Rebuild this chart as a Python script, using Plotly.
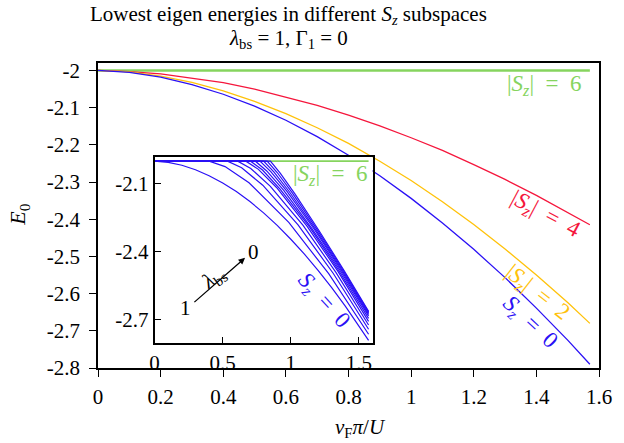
import plotly.graph_objects as go

# ---------------- data ----------------
x_main = [0, 0.1, 0.2, 0.3, 0.4, 0.5, 0.6, 0.7, 0.8, 0.9, 1.0, 1.1, 1.2, 1.3, 1.4, 1.5, 1.5708]
e_sz0 = [-2, -2.005, -2.018, -2.038, -2.064, -2.096, -2.134, -2.178, -2.228, -2.283,
         -2.344, -2.410, -2.481, -2.557, -2.639, -2.725, -2.790]
e_sz2 = [-2, -2.004, -2.015, -2.032, -2.055, -2.083, -2.116, -2.154, -2.196, -2.244,
         -2.296, -2.353, -2.414, -2.480, -2.550, -2.624, -2.680]
e_sz4 = [-2, -2.003, -2.009, -2.020, -2.033, -2.050, -2.071, -2.094, -2.120, -2.149,
         -2.181, -2.215, -2.253, -2.293, -2.336, -2.381, -2.415]
e_sz6 = [-2] * len(x_main)

# inset: Sz=0 lowest energy for lambda_bs = 0.9 ... 0 (lambda=1 is e_sz0)
inset_x = {
    0.9: [0, 0.40, 0.517, 0.693, 0.985, 1.278, 1.5708],
    0.8: [0, 0.535, 0.639, 0.794, 1.053, 1.312, 1.5708],
    0.7: [0, 0.61, 0.706, 0.850, 1.090, 1.331, 1.5708],
    0.6: [0, 0.67, 0.760, 0.895, 1.120, 1.346, 1.5708],
    0.5: [0, 0.705, 0.792, 0.921, 1.138, 1.354, 1.5708],
    0.4: [0, 0.74, 0.823, 0.948, 1.155, 1.363, 1.5708],
    0.3: [0, 0.773, 0.853, 0.972, 1.172, 1.371, 1.5708],
    0.2: [0, 0.80, 0.877, 0.993, 1.185, 1.378, 1.5708],
    0.1: [0, 0.826, 0.900, 1.012, 1.198, 1.385, 1.5708],
    0.0: [0, 0.85, 0.922, 1.030, 1.210, 1.391, 1.5708],
}
inset_e = {
    0.9: [-2, -2, -2.024, -2.095, -2.270, -2.496, -2.763],
    0.8: [-2, -2, -2.029, -2.106, -2.281, -2.495, -2.741],
    0.7: [-2, -2, -2.032, -2.111, -2.283, -2.490, -2.722],
    0.6: [-2, -2, -2.035, -2.116, -2.287, -2.486, -2.706],
    0.5: [-2, -2, -2.039, -2.123, -2.291, -2.484, -2.693],
    0.4: [-2, -2, -2.043, -2.129, -2.297, -2.483, -2.682],
    0.3: [-2, -2, -2.046, -2.133, -2.300, -2.482, -2.675],
    0.2: [-2, -2, -2.048, -2.138, -2.304, -2.482, -2.669],
    0.1: [-2, -2, -2.050, -2.141, -2.306, -2.482, -2.665],
    0.0: [-2, -2, -2.053, -2.144, -2.309, -2.482, -2.662],
}

x_ticks = [0, 0.2, 0.4, 0.6, 0.8, 1.0, 1.2, 1.4, 1.6]
x_ticktext = ["0", "0.2", "0.4", "0.6", "0.8", "1", "1.2", "1.4", "1.6"]
y_ticks = [-2, -2.1, -2.2, -2.3, -2.4, -2.5, -2.6, -2.7, -2.8]
y_ticktext = ["-2", "-2.1", "-2.2", "-2.3", "-2.4", "-2.5", "-2.6", "-2.7", "-2.8"]
ix_ticks = [0, 0.5, 1.0, 1.5]
ix_ticktext = ["0", "0.5", "1", "1.5"]
iy_ticks = [-2.1, -2.4, -2.7]
iy_ticktext = ["-2.1", "-2.4", "-2.7"]

# ---------------- style ----------------
GREEN = "#86d45e"
RED = "#f5163c"
YELLOW = "#ffc20a"
BLUE = "#2a10f5"
FONT = "Liberation Serif"

fig = go.Figure()

# main curves
fig.add_trace(go.Scatter(x=x_main, y=e_sz6, mode="lines", line=dict(color=GREEN, width=2.5),
                         xaxis="x", yaxis="y", showlegend=False))
fig.add_trace(go.Scatter(x=x_main, y=e_sz4, mode="lines", line=dict(color=RED, width=1.3),
                         xaxis="x", yaxis="y", showlegend=False))
fig.add_trace(go.Scatter(x=x_main, y=e_sz2, mode="lines", line=dict(color=YELLOW, width=1.3),
                         xaxis="x", yaxis="y", showlegend=False))
fig.add_trace(go.Scatter(x=x_main, y=e_sz0, mode="lines", line=dict(color=BLUE, width=1.3),
                         xaxis="x", yaxis="y", showlegend=False))

# inset curves
fig.add_trace(go.Scatter(x=x_main, y=e_sz6, mode="lines", line=dict(color=GREEN, width=1.8),
                         xaxis="x2", yaxis="y2", showlegend=False))
for lam in inset_x:
    fig.add_trace(go.Scatter(x=inset_x[lam], y=inset_e[lam], mode="lines",
                             line=dict(color=BLUE, width=1.2),
                             xaxis="x2", yaxis="y2", showlegend=False))
fig.add_trace(go.Scatter(x=x_main, y=e_sz0, mode="lines", line=dict(color=BLUE, width=1.2),
                         xaxis="x2", yaxis="y2", showlegend=False))

axis_common = dict(showline=True, linecolor="black", linewidth=1.8, mirror=True,
                   showgrid=False, zeroline=False, ticks="outside", tickcolor="black",
                   tickwidth=1.3, ticklen=7, tickfont=dict(family=FONT, size=21, color="black"))

fig.update_layout(
    width=624, height=443,
    margin=dict(l=98, r=21, t=63, b=75),
    paper_bgcolor="white", plot_bgcolor="white",
    font=dict(family=FONT, color="black"),
    xaxis=dict(domain=[0, 1], range=[0, 1.6], tickmode="array", tickvals=x_ticks,
               ticktext=x_ticktext, anchor="y", ticklabelstandoff=2, **axis_common),
    yaxis=dict(domain=[0, 1], range=[-2.8, -1.98], tickmode="array", tickvals=y_ticks,
               ticktext=y_ticktext, anchor="x", ticklabelstandoff=5, **axis_common),
    xaxis2=dict(domain=[0.113, 0.548], range=[0, 1.6], tickmode="array", tickvals=ix_ticks,
                ticktext=ix_ticktext, anchor="y2",
                **{**axis_common, "ticks": "inside", "ticklen": 6}),
    yaxis2=dict(domain=[0.083, 0.693], range=[-2.8, -1.98], tickmode="array", tickvals=iy_ticks,
                ticktext=iy_ticktext, anchor="x2",
                **{**axis_common, "ticks": "inside", "ticklen": 6}),
)

def ann(text, x, y, color="black", size=21, angle=0, xref="paper", yref="paper", **kw):
    fig.add_annotation(text=text, x=x, y=y, xref=xref, yref=yref, showarrow=False,
                       textangle=angle, font=dict(family=FONT, size=size, color=color),
                       xanchor="center", yanchor="middle", **kw)

SZ = "<i>S</i><sub><i>z</i></sub>"
# title
ann("Lowest eigen energies in different " + SZ + " subspaces", 0.380, 1.156, size=21)
ann("<i>λ</i><sub>bs</sub> = 1, Γ<sub>1</sub> = 0", 0.380, 1.080, size=21)
# axis titles
ann("<i>v</i><sub>F</sub><i>π</i>/<i>U</i>", 0.523, -0.196, size=21)
ann("<i>E</i><sub>0</sub>", -0.158, 0.502, size=22, angle=-90)
# main curve labels
ann("|" + SZ + "|  =  6", 0.891, 0.929, color=GREEN, size=23)
ann("|" + SZ + "|  =  4", 0.893, 0.503, color=RED, size=23, angle=28)
ann("|" + SZ + "|  =  2", 0.876, 0.247, color=YELLOW, size=23, angle=38)
ann(SZ + "  =  0", 0.862, 0.148, color=BLUE, size=23, angle=43)
# inset labels
ann("|" + SZ + "|  =  6", 0.463, 0.634, color=GREEN, size=23)
ann(SZ + "  =  0", 0.450, 0.221, color=BLUE, size=23, angle=48)
ann("1", 0.228, -2.648, size=21, xref="x2", yref="y2")
ann("0", 0.729, -2.402, size=21, xref="x2", yref="y2")
ann("<i>λ</i><sub>bs</sub>", 0.430, -2.515, size=21, angle=-37, xref="x2", yref="y2")
fig.add_annotation(x=0.664, y=-2.426, ax=0.281, ay=-2.627, xref="x2", yref="y2",
                   axref="x2", ayref="y2", text="", showarrow=True, arrowhead=2,
                   arrowsize=1, arrowwidth=1.3, arrowcolor="black")

fig.write_html("out.html")
